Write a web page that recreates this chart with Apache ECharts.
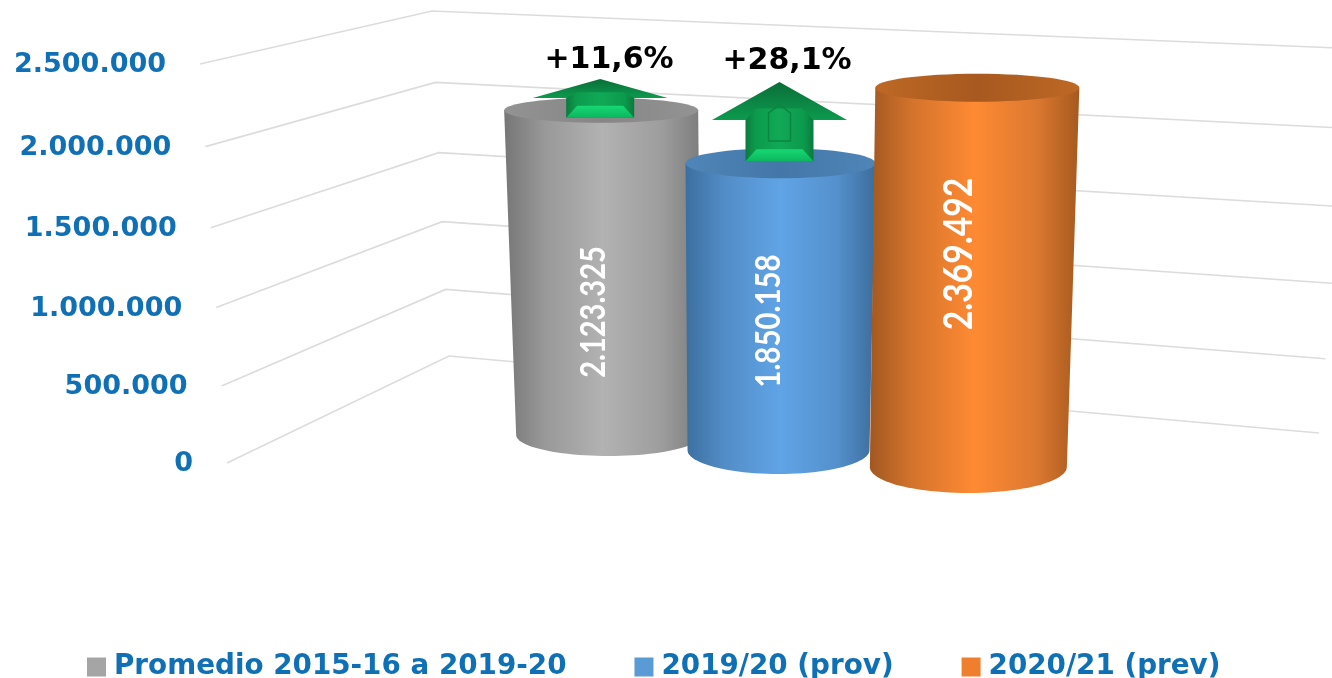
<!DOCTYPE html>
<html><head><meta charset="utf-8">
<style>html,body{margin:0;padding:0;background:#fff}#c{width:1332px;height:678px}</style>
<script src="https://cdn.jsdelivr.net/npm/echarts@6/dist/echarts.min.js"></script>
</head><body><div id="c"></div>
<script>
// ---- data ----
const categories = ['Promedio 2015-16 a 2019-20', '2019/20 (prov)', '2020/21 (prev)'];
const promedioValues = [2123325];
const prov1920Values = [1850158];
const prev2021Values = [2369492];
const tickValues = [0, 500000, 1000000, 1500000, 2000000, 2500000];
const tickLabels = ['0', '500.000', '1.000.000', '1.500.000', '2.000.000', '2.500.000'];
const changeLabels = ['+11,6%', '+28,1%'];
const changeValues = [promedioValues[0], prov1920Values[0]];

// ---- perspective layout (screen geometry of the 3D scene) ----
const AX_MAX = 2500000, G_TOP = 64, G_H = 399, G_LEFT = 505, G_W = 574;
const K = 0.044;
const bend = t => (1 - K) * t + K * t * t;
const blue = '#1070b5', FONT = '"DejaVu Sans"';
const BARS = [
  {dx: 0.5,  rxT: 97,  rxB: 92.5, dxB: 7.5, base: 435, full: 385, ryT: 12.5, ryB: 21, lx: -7,  ly: 312, fs: 35, sx: .83,
   stops: ['#767676', '#989898', '#b2b2b2', '#9d9d9d', '#7c7c7c'], top: ['#939393', '#868686', '#939393']},
  {dx: -11.5, rxT: 95, rxB: 91, dxB: -2, base: 450, full: 392, ryT: 15, ryB: 24, lx: -12, ly: 321, fs: 35, sx: .84,
   stops: ['#3b6f9f', '#528cc6', '#60a4e6', '#5490cc', '#3c6d9c'], top: ['#4f85b8', '#4377a8', '#4f85b8']},
  {dx: -6,  rxT: 102, rxB: 98.5, dxB: -9, base: 467, full: 401, ryT: 14, ryB: 26, lx: -18, ly: 254, fs: 40, sx: .84,
   stops: ['#a25821', '#d3732c', '#ff8a33', '#db7830', '#a6591e'], top: ['#bd6825', '#a8591f', '#bd6825']}
];
const tOf = y => (G_TOP + G_H - y) / G_H;
const hGrad = (cols) => ({type: 'linear', x: 0, y: 0, x2: 1, y2: 0,
  colorStops: cols.map((c, i) => ({offset: cols.length === 5 ? [0, .2, .5, .8, 1][i] : i / (cols.length - 1), color: c}))});

function barRender(idx) {
  return function (params, api) {
    const L = BARS[idx];
    const p = api.coord([api.value(0), api.value(1)]);
    const band = api.coord([api.value(0), 0]);
    const yTop = L.base - L.full * bend(tOf(p[1]));
    const cxT = band[0] + L.dx, cxB = cxT + L.dxB;
    const pts = [[cxT - L.rxT, yTop], [cxT + L.rxT, yTop]];
    for (let a = 0; a <= 48; a++) {
      const th = Math.PI * a / 48;
      pts.push([cxB + L.rxB * Math.cos(th), L.base + L.ryB * Math.sin(th)]);
    }
    const txt = String(api.value(1)).replace(/\B(?=(\d{3})+$)/g, '.');
    return {type: 'group', children: [
      {type: 'polygon', shape: {points: pts}, style: {fill: hGrad(L.stops)}},
      {type: 'ellipse', shape: {cx: cxT, cy: yTop, rx: L.rxT, ry: L.ryT}, style: {fill: hGrad(L.top)}},
      {type: 'text', x: band[0] + L.dx + L.lx, y: L.ly, rotation: Math.PI / 2, scaleX: L.sx,
       style: {text: txt, x: 0, y: 0, align: 'center', verticalAlign: 'middle', textAlign: 'center', textVerticalAlign: 'middle',
               fill: '#fff', font: 'bold ' + L.fs + 'px Lato'}}
    ]};
  };
}

function planePoint(t, plane) {
  return [plane.x0 + plane.dx * t, plane.y0 - plane.h * bend(t)];
}
const FRONT = {x0: 227, dx: -27, y0: 463, h: 399};
const BACK = {x0: 449, dx: -17, y0: 356, h: 345};
const RIGHT = {x0: 1319, dx: 32, y0: 433, h: 384.5};

function wallRender(params, api) {
  const y = api.coord([0, api.value(0)])[1], t = tOf(y);
  const f = planePoint(t, FRONT), b = planePoint(t, BACK), r = planePoint(t, RIGHT);
  return {type: 'group', children: [
    {type: 'polyline', shape: {points: [f, b, r]}, style: {fill: 'none', stroke: '#dcdcdc', lineWidth: 1.6}},
    {type: 'text', x: 193 - 27 * t, y: f[1] + 1,
     style: {text: tickLabels[params.dataIndex], x: 0, y: 0, align: 'right', verticalAlign: 'middle', textAlign: 'right', textVerticalAlign: 'middle',
             fill: blue, font: 'bold 27px ' + FONT}}
  ]};
}

const ARROWS = [
  {barIdx: 0, dx: -1, baseOff: 7.5, apex: 79, headH: 19, door: false, lx: 609, ly: 60},
  {barIdx: 1, dx: -1, baseOff: -2,  apex: 82, headH: 38, door: true,  lx: 787, ly: 61}
];
function arrowRender(params, api) {
  const A = ARROWS[params.dataIndex], L = BARS[A.barIdx];
  const p = api.coord([A.barIdx, api.value(0)]);
  const base = L.base - L.full * bend(tOf(p[1])) + A.baseOff;
  const cx = p[0] + L.dx + A.dx;
  const sw = 34, hw = 67.5, tipY = A.apex + A.headH, ins = 11, bev = 12;
  const notch = tipY - A.headH * .3;
  const kids = [
    // shaft
    {type: 'polygon', shape: {points: [[cx - sw, notch - 1], [cx + sw, notch - 1], [cx + sw, base], [cx - sw, base]]},
     style: {fill: {type: 'linear', x: 0, y: 0, x2: 1, y2: 0, colorStops: [{offset: 0, color: '#0a7a3e'}, {offset: .14, color: '#0c9a4c'}, {offset: .5, color: '#10a956'}, {offset: .86, color: '#0c9a4c'}, {offset: 1, color: '#0a7a3e'}]}}},
    // head
    {type: 'polygon', shape: {points: [[cx, A.apex], [cx + hw, tipY], [cx + sw, tipY], [cx + sw - ins, notch], [cx - sw + ins, notch], [cx - sw, tipY], [cx - hw, tipY]]},
     style: {fill: {type: 'linear', x: 0, y: 0, x2: 0, y2: 1, colorStops: [{offset: 0, color: '#0a6e38'}, {offset: 1, color: '#0d9a4e'}]}}},
    // bright lower bevel
    {type: 'polygon', shape: {points: [[cx - sw, base], [cx + sw, base], [cx + sw - ins, base - bev], [cx - sw + ins, base - bev]]},
     style: {fill: {type: 'linear', x: 0, y: 0, x2: 0, y2: 1, colorStops: [{offset: 0, color: '#16d873'}, {offset: 1, color: '#0db65f'}]}}}
  ];
  if (A.door) kids.push({type: 'polygon', shape: {points: [[cx - 11, 141], [cx - 11, 113], [cx, 105], [cx + 11, 113], [cx + 11, 141]]},
    style: {fill: 'none', stroke: '#0a8542', lineWidth: 1.5}});
  kids.push({type: 'text', x: A.lx, y: A.ly, style: {text: changeLabels[params.dataIndex], x: 0, y: 0, align: 'center', verticalAlign: 'middle', textAlign: 'center', textVerticalAlign: 'middle',
    fill: '#000', font: 'bold 30px ' + FONT}});
  return {type: 'group', children: kids};
}

const colors = ['#a5a5a5', '#5b9bd5', '#f07f2d'];
const barSeries = [promedioValues, prov1920Values, prev2021Values].map((vals, i) => ({
  type: 'custom', name: categories[i], z: 3 + i,
  coordinateSystem: 'cartesian2d',
  itemStyle: {color: colors[i]},
  renderItem: barRender(i),
  encode: {x: 0, y: 1},
  data: vals.map(v => [i, v]),
  silent: true
}));

const chart = echarts.init(document.getElementById('c'), null, {renderer: 'canvas'});
chart.setOption({
  animation: false,
  backgroundColor: '#fff',
  grid: {left: G_LEFT, top: G_TOP, width: G_W, height: G_H, show: false},
  xAxis: {type: 'category', data: categories, show: false},
  yAxis: {type: 'value', min: 0, max: AX_MAX, interval: 500000, show: false},
  legend: {
    data: categories, left: 82, top: 648, icon: 'rect', itemWidth: 19, itemHeight: 19, itemGap: 68,
    selectedMode: false,
    textStyle: {color: blue, fontFamily: FONT, fontWeight: 'bold', fontSize: 27.8, padding: [0, 0, 0, 3]}
  },
  series: [
    {type: 'custom', name: 'wall', z: 1, silent: true, renderItem: wallRender, encode: {y: 0}, data: tickValues.map(v => [v])}
  ].concat(barSeries).concat([
    {type: 'custom', name: 'change', z: 8, silent: true, renderItem: arrowRender, encode: {y: 0}, data: changeValues.map(v => [v])}
  ])
});
</script></body></html>
